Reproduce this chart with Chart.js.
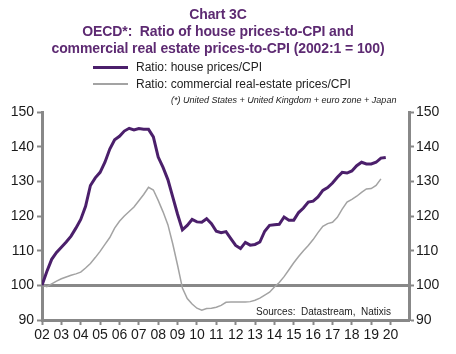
<!DOCTYPE html>
<html>
<head>
<meta charset="utf-8">
<script src="https://cdn.jsdelivr.net/npm/chart.js@4"></script>
<style>
  body { margin: 0; background: #fff; font-family: "Liberation Sans", Arial, sans-serif; }
  #wrap { position: relative; width: 456px; height: 354px; }
  canvas { position: absolute; left: 0; top: 0; }
  .t { position: absolute; white-space: nowrap; }
  #title { left: 0; width: 436px; top: 6px; text-align: center; color: #5d2a72; font-weight: bold; font-size: 14px; line-height: 17px; letter-spacing: -0.1px; }
  .leg { font-size: 12px; color: #222; left: 136px; }
  .sw { position: absolute; left: 93px; width: 35px; }
  #note { left: 171px; top: 95px; font-size: 9px; font-style: italic; color: #222; }
  #src { left: 256px; top: 306px; font-size: 10px; color: #222; }
</style>
</head>
<body>
<div id="wrap">
  <canvas id="myChart" width="456" height="354"></canvas>
  <div id="title" class="t">Chart 3C<br>OECD*:&nbsp; Ratio of house prices-to-CPI and<br>commercial real estate prices-to-CPI (2002:1 = 100)</div>
  <div class="sw" style="top:66px;height:3px;background:#4b1f6b"></div>
  <div class="t leg" style="top:60px">Ratio: house prices/CPI</div>
  <div class="sw" style="top:83px;height:2px;background:#a3a3a3"></div>
  <div class="t leg" style="top:77px">Ratio: commercial real-estate prices/CPI</div>
  <div id="note" class="t">(*) United States + United Kingdom + euro zone + Japan</div>
  <div id="src" class="t">Sources:&nbsp; Datastream,&nbsp; Natixis</div>
</div>
<script>
// quarterly values, first point = 2002 Q1
const start_year = 2002
const house_values = [
    100, 104, 107.5, 109.5, 111, 112.5, 114.2, 116.5,
    119, 122.8, 128.8, 131, 132.6, 135.5, 139.3, 142,
    143, 144.5, 145.3, 144.8, 145.2, 145, 145, 142.8,
    137, 134, 130.5, 125.5, 120.5, 116, 117.3, 119,
    118.3, 118.2, 119.2, 117.8, 115.6, 115.2, 115.5, 113.5,
    111.5, 110.6, 112.4, 111.6, 111.8, 112.5, 115.6, 117.3,
    117.5, 117.6, 119.7, 118.8, 118.8, 121, 122.3, 124,
    124.3, 125.5, 127.4, 128.2, 129.5, 131.2, 132.6, 132.4,
    133, 134.5, 135.5, 135, 135, 135.5, 136.7, 136.9
]
const commercial_values = [
    100, 99.6, 100.4, 101.2, 101.9, 102.4, 102.9, 103.3,
    103.8, 105, 106.3, 108, 109.8, 111.8, 113.8, 116.5,
    118.5, 120, 121.3, 122.6, 124.4, 126.2, 128.3, 127.5,
    124.5, 121.2, 117.5, 112, 105.8, 99.2, 96.2, 94.6,
    93.4, 92.8, 93.3, 93.4, 93.7, 94.2, 95.1, 95.2,
    95.2, 95.2, 95.2, 95.3, 95.7, 96.3, 97.2, 98,
    99.5, 100.8, 102.5, 104.5, 106.5, 108.3, 110, 111.5,
    113.2, 115.2, 117, 117.8, 118.2, 119.6, 122, 124,
    124.8, 125.7, 126.8, 127.8, 127.9, 128.8, 130.7
]
const year_labels = ['02','03','04','05','06','07','08','09','10','11','12','13','14','15','16','17','18','19','20']

const axis_gray = '#888888'
const tick_font = { family: 'Liberation Sans', size: 14 }

function to_points(values) {
    return values.map((v, i) => ({ x: start_year + i / 4, y: v }))
}

function y_axis(pos, width) {
    return {
        type: 'linear',
        position: pos,
        min: 90, max: 150,
        afterFit: s => { s.width = width },
        border: { color: axis_gray, width: 3 },
        grid: {
            drawOnChartArea: pos == 'left',
            color: ctx => ctx.tick && ctx.tick.value == 100 ? axis_gray : 'transparent',
            lineWidth: ctx => ctx.tick && ctx.tick.value == 100 ? 3 : 1,
            tickColor: axis_gray,
            tickLength: 5,
            tickWidth: 2
        },
        ticks: { stepSize: 10, color: '#1a1a1a', font: tick_font, padding: pos == 'left' ? 3 : 2 }
    }
}

new Chart(document.getElementById('myChart'), {
    type: 'line',
    data: {
        datasets: [{
            label: 'Ratio: house prices/CPI',
            data: to_points(house_values),
            borderColor: '#4b1f6b',
            borderWidth: 3,
            tension: 0
        }, {
            label: 'Ratio: commercial real-estate prices/CPI',
            data: to_points(commercial_values),
            borderColor: '#a3a3a3',
            borderWidth: 1.5,
            tension: 0
        }]
    },
    options: {
        responsive: false,
        animation: false,
        layout: { padding: { top: 112, left: 0, right: 0, bottom: 0 } },
        elements: { point: { radius: 0 } },
        plugins: { legend: { display: false }, tooltip: { enabled: false } },
        scales: {
            x: {
                type: 'linear',
                min: 2002, max: 2020.95,
                afterFit: s => { s.height = 34 },
                afterBuildTicks: s => { s.ticks = s.ticks.filter(t => Math.abs(t.value - Math.round(t.value)) < 1e-6) },
                border: { color: axis_gray, width: 3 },
                grid: { drawOnChartArea: false, tickColor: axis_gray, tickLength: 5, tickWidth: 2 },
                ticks: {
                    stepSize: 1, autoSkip: false, includeBounds: false, maxRotation: 0,
                    color: '#1a1a1a', font: tick_font, padding: 2,
                    callback: v => year_labels[Math.round(v) - start_year]
                }
            },
            y: y_axis('left', 42),
            y2: y_axis('right', 47)
        }
    }
})
</script>
</body>
</html>
